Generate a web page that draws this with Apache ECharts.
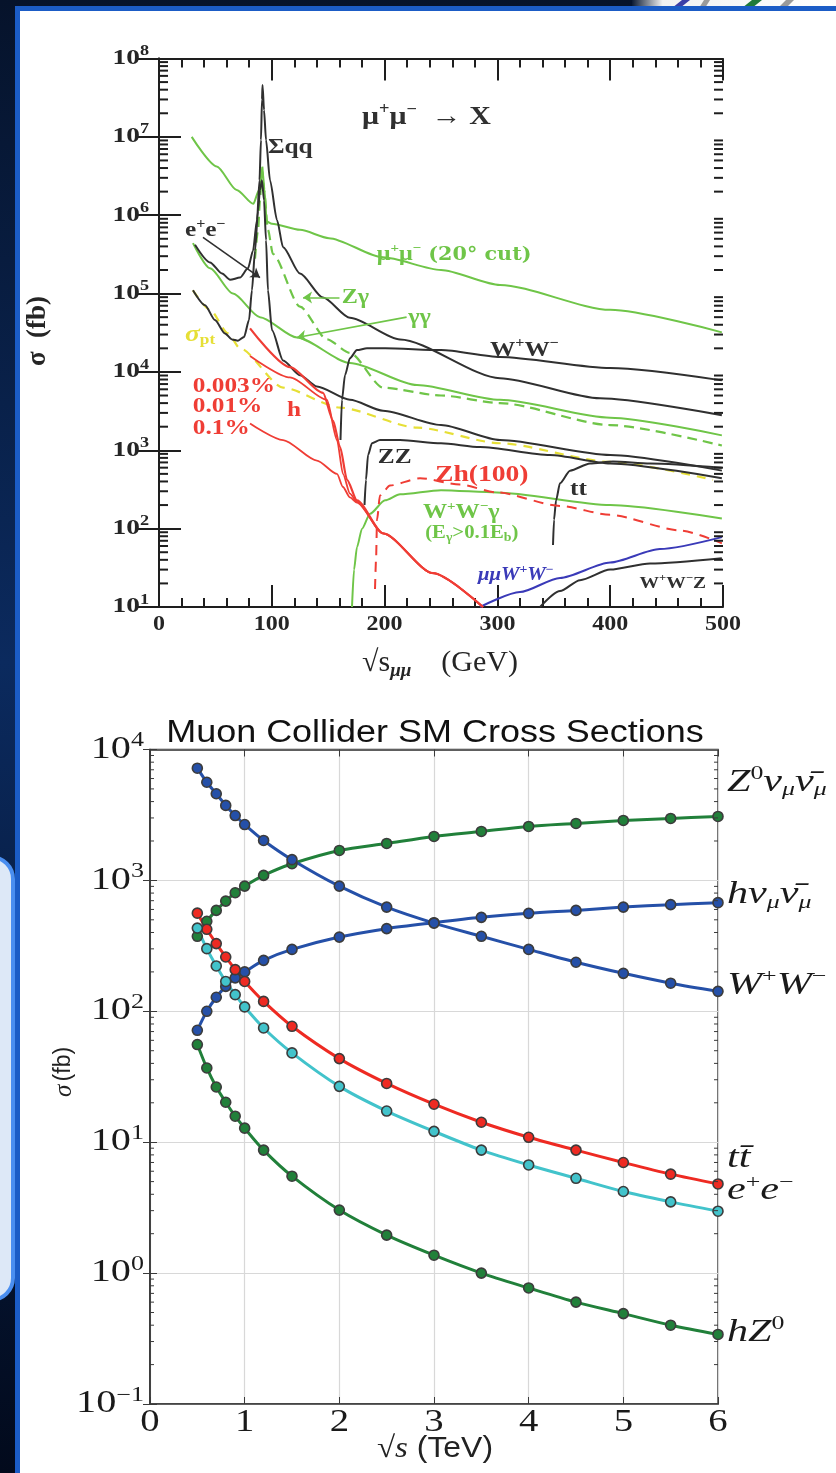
<!DOCTYPE html>
<html>
<head>
<meta charset="utf-8">
<script src="https://cdn.jsdelivr.net/npm/echarts@6/dist/echarts.min.js"></script>
<style>
html,body{margin:0;padding:0;overflow:hidden;background:#0a2250;}
#chart{width:836px;height:1473px;}
</style>
</head>
<body>
<div id="chart"></div>
<script>
// ================= UPPER PLOT: mu+mu- -> X  (x: sqrt(s) GeV, y: sigma fb) =================
const topXTicks = [0, 100, 200, 300, 400, 500];
const topYTickExps = [1, 2, 3, 4, 5, 6, 7, 8];

const mumuCutX = [29, 51.2, 68.9, 83.6, 88.7, 91.9, 93.5, 95.5, 100, 125, 150.7, 198.6, 250, 302.3, 400, 499];
const mumuCutY = [1.0e7, 4.2e6, 2.1e6, 1.4e6, 2.1e6, 3.6e6, 2.1e6, 8.3e5, 7.8e5, 6.5e5, 5.1e5, 2.9e5, 2.0e5, 1.29e5, 6.2e4, 3.2e4];

const sigmaQQX = [31.9, 45.2, 55.9, 63, 71.8, 78.9, 83.3, 86.9, 89.1, 90.4, 91.3, 91.8, 93.1, 94.9, 98.4, 104.6, 110, 125, 145.4, 169.3, 213.7, 302.3, 391, 499];
const sigmaQQY = [4.2e5, 2.5e5, 1.8e5, 1.5e5, 1.6e5, 2.1e5, 3.5e5, 8.7e5, 2.8e6, 9.1e6, 3.0e7, 4.6e7, 2.2e7, 9.1e6, 2.8e6, 8.7e5, 3.9e5, 1.8e5, 8.9e4, 4.9e4, 2.6e4, 8.3e3, 4.6e3, 2.8e3];

const eePairX = [30.1, 40.8, 49.6, 58.5, 64.7, 70, 75.4, 79.8, 82.4, 85.1, 87.8, 89.5, 91.3, 93.1, 94.9, 96.6, 100.2, 110, 125, 140, 169.3, 198.6, 250, 302.3, 400, 499];
const eePairY = [1.1e5, 7.1e4, 4.6e4, 3.1e4, 2.6e4, 2.5e4, 2.8e4, 4.6e4, 1.1e5, 3.5e5, 1.15e6, 2.1e6, 2.8e6, 1.55e6, 4.8e5, 1.1e5, 3.4e4, 1.4e4, 9.1e3, 6.5e3, 4.4e3, 3.2e3, 2.1e3, 1.35e3, 870, 550];

const sigmaPtX = [30.1, 45.2, 61.2, 71.8, 110, 160.5, 228.7, 302.3, 400, 491.1];
const sigmaPtY = [1.1e5, 6.2e4, 3.1e4, 2.0e4, 6.3e3, 3.5e3, 1.95e3, 1.23e3, 710, 420];

const zGammaX = [85.1, 87.8, 89.5, 91.3, 93.1, 96.6, 101, 125, 148.9, 169.3, 198.6, 250, 302.3, 400, 499];
const zGammaY = [2.8e5, 6.5e5, 1.55e6, 4.4e6, 2.1e6, 6.5e5, 3.2e5, 6.8e4, 2.6e4, 1.75e4, 6.3e3, 5.0e3, 4.0e3, 2.1e3, 1.15e3];

const gammaGammaX = [30.1, 45.2, 65.6, 89.5, 122.3, 169.3, 228.7, 302.3, 400, 499];
const gammaGammaY = [4.4e5, 2.1e5, 1.0e5, 5.0e4, 2.75e4, 1.3e4, 6.8e3, 4.4e3, 2.6e3, 1.55e3];

const wwX = [160.9, 162.2, 164.9, 169.3, 175.5, 184.4, 200.4, 250, 302.3, 400, 499];
const wwY = [1350, 4.4e3, 9.1e3, 1.5e4, 1.9e4, 2.0e4, 2.0e4, 1.9e4, 1.55e4, 1.12e4, 7.8e3];

const zzX = [182.2, 183.5, 185.3, 188.8, 195.9, 213.7, 250, 284.6, 346.6, 400, 499];
const zzY = [200, 420, 870, 1230, 1350, 1350, 1230, 1100, 870, 680, 440];

const ttX = [349.3, 350.2, 352, 355.5, 364.4, 382.1, 402.5, 435.3, 499];
const ttY = [62, 130, 230, 380, 550, 680, 720, 680, 600];

const wwzX = [337.8, 355.5, 373.2, 400, 435.3, 499];
const wwzY = [10, 16, 22, 30, 36, 42];

const mumuWWX = [284.6, 320, 355.5, 400, 444, 499];
const mumuWWY = [10, 15.5, 23.5, 37, 55, 78];

const wwGammaX = [171.1, 172.9, 175.5, 180, 187.1, 200.4, 213.7, 250, 299.6, 400, 499];
const wwGammaY = [10, 30, 58, 100, 155, 230, 275, 310, 290, 200, 135];

const zhX = [191.5, 192.4, 193.3, 195.9, 204.8, 231.4, 266.8, 299.6, 355.5, 400, 461.9, 499];
const zhY = [17, 40, 130, 265, 355, 440, 365, 290, 195, 150, 95, 65];

const higgs003X = [80.7, 116.1, 145.4, 154.3, 160.5, 166.7, 175.5, 198.6, 242.9, 287.2];
const higgs003Y = [3.6e4, 1.15e4, 5.4e3, 2.4e3, 1.1e3, 420, 230, 87, 27, 10];
const higgs01X = [80.7, 116.1, 148.9, 157.8, 163.1, 169.3, 175.5, 198.6, 242.9, 287.2];
const higgs01Y = [1.6e4, 8.5e3, 4.4e3, 1.35e3, 500, 280, 220, 87, 27, 10];
const higgs1X = [80.7, 110, 140, 157.8, 163.1, 169.3, 175.5, 198.6, 242.9, 287.2];
const higgs1Y = [2.2e3, 1.35e3, 740, 500, 340, 250, 215, 87, 27, 10];

// ================= LOWER PLOT: Muon Collider SM Cross Sections (x: TeV, y: fb) =================
const botXTicks = [0, 1, 2, 3, 4, 5, 6];
const botYTickExps = [-1, 0, 1, 2, 3, 4];
const tevX = [0.5, 0.6, 0.7, 0.8, 0.9, 1.0, 1.2, 1.5, 2, 2.5, 3, 3.5, 4, 4.5, 5, 5.5, 6];
const wwTevY  = [7200, 5620, 4590, 3740, 3130, 2670, 2020, 1440, 904, 625, 472, 374, 297, 237, 195, 164, 142];
const zvvTevY = [374, 487, 590, 695, 805, 904, 1092, 1340, 1694, 1916, 2166, 2366, 2584, 2724, 2871, 2974, 3080];
const hvvTevY = [71.6, 100, 128, 155, 180, 200, 245, 297, 369, 428, 475, 522, 560, 590, 625, 653, 676];
const ttTevY  = [562, 423, 329, 260, 208, 169, 119, 76.8, 43.5, 28.1, 19.5, 14.2, 10.9, 8.7, 7.0, 5.7, 4.8];
const eeTevY  = [432, 301, 222, 169, 134, 108, 74.6, 48.1, 26.7, 17.3, 12.1, 8.7, 6.7, 5.3, 4.2, 3.5, 2.97];
const hzTevY  = [55.7, 36.9, 26.4, 20.2, 15.8, 12.8, 8.7, 5.5, 3.03, 1.95, 1.37, 1.0, 0.77, 0.60, 0.49, 0.40, 0.34];

// axis ranges / tick helpers
const topXRange = [0, 500];
const topYRange = [10, 1e8];
const botXRange = [0, 6];
const botYRange = [0.1, 1e4];
const minorMultipliers = [2, 3, 4, 5, 6, 7, 8, 9];

// ================= styling =================
const SERIF = 'Liberation Serif';
const WIDESERIF = 'DejaVu Serif';
const SANS = 'Liberation Sans';
const BLACK = '#303030', GREEN = '#6fc548', RED = '#ef3d35', BLUE = '#3a3ab8', YELLOW = '#e6df36';
const C_BLUE = '#2550a8', C_GREEN = '#21803a', C_RED = '#ee2a22', C_CYAN = '#42c3cb';
const INK = '#1a1a1a', TOPINK = '#252525';

function zip(xs, ys) { return xs.map((x, i) => [x, ys[i]]); }
function decadeMinors(lo, hi) {
  const out = [];
  for (let e = lo; e < hi; e++) for (const m of minorMultipliers) out.push(m * Math.pow(10, e));
  return out;
}
function minorTickSeries(xi, yi, xr, values, len, color, width) {
  return {
    type: 'custom', xAxisIndex: xi, yAxisIndex: yi, silent: true, clip: false, z: 6,
    data: values.map(v => [xr[0], v]),
    renderItem(params, api) {
      const v = api.value(1);
      const l = api.coord([xr[0], v]);
      const r = api.coord([xr[1], v]);
      return { type: 'group', children: [
        { type: 'line', shape: { x1: l[0], y1: l[1], x2: l[0] + len, y2: l[1] }, style: { stroke: color, lineWidth: width } },
        { type: 'line', shape: { x1: r[0] - len, y1: r[1], x2: r[0], y2: r[1] }, style: { stroke: color, lineWidth: width } }
      ]};
    }
  };
}
function topLine(xs, ys, color, width, dash) {
  return {
    type: 'line', xAxisIndex: 0, yAxisIndex: 0, data: zip(xs, ys), symbol: 'none',
    smooth: 0.25, smoothMonotone: 'x', silent: true, z: 3,
    lineStyle: { color: color, width: width, type: dash || 'solid' }
  };
}
function rs(family, size, color, extra) {
  return Object.assign({ fontFamily: family, fontSize: size, color: color, fill: color }, extra || {});
}
const B = { fontWeight: 'bold' };
const topRich = {
  k:  rs(SERIF, 22, BLACK, B),
  ks: rs(SERIF, 14, BLACK, { fontWeight: 'bold', padding: [0, 0, 13, 0] }),
  kS: rs(SERIF, 17, BLACK, B),
  kSs: rs(SERIF, 11, BLACK, { fontWeight: 'bold', padding: [0, 0, 10, 0] }),
  x:  rs(SERIF, 26, BLACK, B),
  xs: rs(SERIF, 16, BLACK, { fontWeight: 'bold', padding: [0, 0, 15, 0] }),
  g:  rs(SERIF, 21, GREEN, B),
  gs: rs(SERIF, 13, GREEN, { fontWeight: 'bold', padding: [0, 0, 12, 0] }),
  gm: rs(SERIF, 18, GREEN, B),
  gc: rs(WIDESERIF, 18, GREEN, B),
  gb: rs(SERIF, 12, GREEN, { fontWeight: 'bold', padding: [10, 0, 0, 0] }),
  r:  rs(SERIF, 22, RED, B),
  R:  rs(SERIF, 24, RED, B),
  y:  rs(SERIF, 24, YELLOW, { fontWeight: 'bold', fontStyle: 'italic' }),
  yb: rs(SERIF, 15, YELLOW, { fontWeight: 'bold', padding: [11, 0, 0, 0] }),
  b:  rs(SERIF, 18, BLUE, { fontWeight: 'bold', fontStyle: 'italic' }),
  bs: rs(SERIF, 12, BLUE, { fontWeight: 'bold', padding: [0, 0, 11, 0] })
};
// text annotations of the upper plot (anchored in data coordinates: left edge, vertical middle)
const topNotes = [
  [96.6, 7.3e6, '{k|Σqq}'],
  [23, 6.4e5, '{k|e}{ks|+}{k|e}{ks|−}'],
  [193, 3.1e5, '{g|μ}{gs|+}{g|μ}{gs|−}{gc| (20° cut)}'],
  [162, 8.9e4, '{g|Zγ}'],
  [221, 5.0e4, '{g|γγ}'],
  [293.4, 1.9e4, '{k|W}{ks|+}{k|W}{ks|−}'],
  [23, 3.0e4, '{y|σ}{yb|pt}'],
  [30, 6.6e3, '{r|0.003%}'],
  [30, 3.6e3, '{r|0.01%}'],
  [30, 1.9e3, '{r|0.1%}'],
  [113.5, 3.2e3, '{r|h}'],
  [194, 810, '{k|ZZ}'],
  [244.7, 480, '{R|Zh(100)}'],
  [364.4, 320, '{k|tt}'],
  [234, 162, '{g|W}{gs|+}{g|W}{gs|−}{g|γ}'],
  [236, 87, '{gm|(E}{gb|γ}{gm|>0.1E}{gb|b}{gm|)}'],
  [282.8, 25, '{b|μμW}{bs|+}{b|W}{bs|−}'],
  [426, 20, '{kS|W}{kSs|+}{kS|W}{kSs|−}{kS|Z}'],
  [180, 1.78e7, '{x|μ}{xs|+}{x|μ}{xs|−}{x|  → X}']
];
const topArrows = [
  [[39, 5.2e5], [89.5, 1.6e5], BLACK],
  [[160, 8.9e4], [127.7, 8.9e4], GREEN],
  [[219.5, 5.0e4], [122.3, 2.75e4], GREEN]
];
const topTickRich = {
  b: rs(SERIF, 21, TOPINK, B),
  s: rs(SERIF, 14, TOPINK, { fontWeight: 'bold', padding: [0, 0, 14, 0] })
};

const botRich = {
  m:  rs(SERIF, 31, INK, { fontStyle: 'italic' }),
  sp: rs(SERIF, 19, INK, { padding: [0, 0, 16, 0] }),
  sb: rs(SERIF, 19, INK, { fontStyle: 'italic', padding: [16, 0, 0, 0] })
};
const botTickRich = {
  b: rs(SERIF, 31, INK),
  s: rs(SERIF, 20, INK, { padding: [0, 0, 17, 0] })
};
// right-hand labels of the lower plot: [series values, text, vertical offset from the last point]
const botEndNotes = [
  [zvvTevY, '{m|Z}{sp|0}{m|ν}{sb|μ}{m|ν̄}{sb|μ}', -34],
  [hvvTevY, '{m|hν}{sb|μ}{m|ν̄}{sb|μ}', -8],
  [wwTevY, '{m|W}{sp|+}{m|W}{sp|−}', -6],
  [ttTevY, '{m|tt̄}', -25],
  [eeTevY, '{m|e}{sp|+}{m|e}{sp|−}', -20],
  [hzTevY, '{m|hZ}{sp|0}', -2]
];
function botLine(ys, color) {
  return {
    type: 'line', xAxisIndex: 2, yAxisIndex: 2, data: zip(tevX, ys),
    smooth: 0.3, symbol: 'circle', symbolSize: 10, silent: true, z: 4,
    lineStyle: { color: color, width: 3 },
    itemStyle: { color: color, borderColor: '#3c3c3c', borderWidth: 1.6 }
  };
}
function expText(e) {
  return '{b|10}{s|' + (e < 0 ? '−' + (-e) : e) + '}';
}

const chart = echarts.init(document.getElementById('chart'), null, { renderer: 'canvas', width: 836, height: 1473 });

const baseGraphic = [
  // slide background
  { type: 'rect', z: -100, silent: true, shape: { x: 0, y: 0, width: 836, height: 1473 },
    style: { fill: new echarts.graphic.LinearGradient(0, 0, 0, 1, [
      { offset: 0, color: '#06132b' }, { offset: 0.45, color: '#0b2a5e' }, { offset: 1, color: '#020a1c' }]) } },
  // logo fragment at top right
  { type: 'rect', z: -99, silent: true, shape: { x: 632, y: 0, width: 204, height: 8 },
    style: { fill: new echarts.graphic.LinearGradient(0, 0, 1, 0, [
      { offset: 0, color: '#0b1a33' }, { offset: 0.15, color: '#f2f2f2' }, { offset: 1, color: '#ffffff' }]) } },
  { type: 'polygon', z: -98, silent: true, shape: { points: [[672, 8], [680, 8], [690, 0], [682, 0]] }, style: { fill: '#3b3fa8' } },
  { type: 'polygon', z: -98, silent: true, shape: { points: [[699, 8], [705, 8], [710, 0], [704, 0]] }, style: { fill: '#9a9a9a' } },
  { type: 'polygon', z: -98, silent: true, shape: { points: [[742, 8], [752, 8], [762, 0], [752, 0]] }, style: { fill: '#1f7a3a' } },
  { type: 'polygon', z: -98, silent: true, shape: { points: [[778, 8], [786, 8], [794, 0], [786, 0]] }, style: { fill: '#9a9a9a' } },
  // left rounded box of the slide
  { type: 'rect', z: -97, silent: true, shape: { x: -40, y: 857, width: 53, height: 443, r: 22 },
    style: { fill: '#dde8f7', stroke: '#4a8ef0', lineWidth: 4 } },
  // panel border and white panel
  { type: 'rect', z: -96, silent: true, shape: { x: 15, y: 6, width: 821, height: 1467 }, style: { fill: '#1b5cc6' } },
  { type: 'rect', z: -95, silent: true, shape: { x: 20, y: 11, width: 816, height: 1462 }, style: { fill: '#ffffff' } },
  // upper plot axis titles
  { type: 'text', z: 10, silent: true, x: 38, y: 331, rotation: Math.PI / 2,
    style: { text: 'σ  (fb)', font: 'bold 27px "Liberation Serif"', fill: TOPINK, align: 'center', verticalAlign: 'middle' } },
  { type: 'text', z: 10, silent: true, x: 440, y: 663,
    style: { text: '{a|√s}{b|μμ}{a|    (GeV)}', align: 'center', verticalAlign: 'middle',
      rich: { a: rs(SERIF, 30, TOPINK), b: rs(SERIF, 19, TOPINK, { fontStyle: 'italic', fontWeight: 'bold', padding: [16, 0, 0, 0] }) } } },
  // lower plot title and axis titles
  { type: 'text', z: 10, silent: true, x: 435, y: 733, scaleX: 1.16,
    style: { text: 'Muon Collider SM Cross Sections', font: '31px "Liberation Sans"', fill: '#111', align: 'center', verticalAlign: 'middle' } },
  { type: 'text', z: 10, silent: true, x: 64, y: 1072, rotation: Math.PI / 2,
    style: { text: '{i|σ} {s|(fb)}', align: 'center', verticalAlign: 'middle',
      rich: { i: rs(SERIF, 25, '#222', { fontStyle: 'italic' }), s: rs(SANS, 23, '#222') } } },
  { type: 'text', z: 10, silent: true, x: 435, y: 1449, scaleX: 1.1,
    style: { text: '{r|√}{i|s}{s| (TeV)}', align: 'center', verticalAlign: 'middle',
      rich: { r: rs(SERIF, 30, '#222'), i: rs(SERIF, 30, '#222', { fontStyle: 'italic' }), s: rs(SANS, 29, '#222') } } }
];

const topAxisLine = { lineStyle: { color: '#1e1e1e', width: 2 } };
const topTick = { inside: true, length: 22, lineStyle: { color: '#1e1e1e', width: 2 } };
const topMinor = { show: true, splitNumber: 5, length: 9, lineStyle: { color: '#1e1e1e', width: 2 } };
const botAxisLine = { lineStyle: { color: '#3a3a3a', width: 1.5 } };
const botTick = { inside: true, length: 7, lineStyle: { color: '#3a3a3a' } };
const botSplit = { show: true, lineStyle: { color: '#d8d8d8', width: 1.2 } };

const option = {
  animation: false,
  backgroundColor: '#0a2250',
  grid: [
    { left: 159, top: 58.5, width: 564, height: 548.5 },
    { left: 150, top: 749.5, width: 568, height: 654.5, show: true, borderColor: '#3a3a3a', borderWidth: 1.5 }
  ],
  xAxis: [
    { gridIndex: 0, type: 'value', min: topXRange[0], max: topXRange[1], interval: 100, position: 'bottom',
      axisLine: topAxisLine, axisTick: topTick, minorTick: topMinor, splitLine: { show: false }, axisLabel: { show: false } },
    { gridIndex: 0, type: 'value', min: topXRange[0], max: topXRange[1], interval: 100, position: 'top',
      axisLine: topAxisLine, axisTick: topTick, minorTick: topMinor, splitLine: { show: false }, axisLabel: { show: false } },
    { gridIndex: 1, type: 'value', min: botXRange[0], max: botXRange[1], interval: 1, position: 'bottom',
      axisLine: botAxisLine, axisTick: botTick, splitLine: botSplit, axisLabel: { show: false } },
    { gridIndex: 1, type: 'value', min: botXRange[0], max: botXRange[1], interval: 1, position: 'top',
      axisLine: botAxisLine, axisTick: botTick, splitLine: { show: false }, axisLabel: { show: false } }
  ],
  yAxis: [
    { gridIndex: 0, type: 'log', logBase: 10, min: topYRange[0], max: topYRange[1], splitNumber: 7, position: 'left',
      axisLine: topAxisLine, axisTick: topTick, splitLine: { show: false }, axisLabel: { show: false } },
    { gridIndex: 0, type: 'log', logBase: 10, min: topYRange[0], max: topYRange[1], splitNumber: 7, position: 'right',
      axisLine: topAxisLine, axisTick: topTick, splitLine: { show: false }, axisLabel: { show: false } },
    { gridIndex: 1, type: 'log', logBase: 10, min: botYRange[0], max: botYRange[1], splitNumber: 5, position: 'left',
      axisLine: botAxisLine, axisTick: botTick, splitLine: botSplit, axisLabel: { show: false } },
    { gridIndex: 1, type: 'log', logBase: 10, min: botYRange[0], max: botYRange[1], splitNumber: 5, position: 'right',
      axisLine: botAxisLine, axisTick: botTick, splitLine: { show: false }, axisLabel: { show: false } }
  ],
  graphic: baseGraphic,
  series: [
    minorTickSeries(0, 0, topXRange, decadeMinors(1, 8), 9, '#1e1e1e', 2),
    minorTickSeries(2, 2, botXRange, decadeMinors(-1, 4), 4, '#3a3a3a', 1),
    topLine(mumuCutX, mumuCutY, GREEN, 2),
    topLine(gammaGammaX, gammaGammaY, GREEN, 2),
    topLine(zGammaX, zGammaY, GREEN, 2.2, [10, 6]),
    topLine(wwGammaX, wwGammaY, GREEN, 2),
    topLine(sigmaPtX, sigmaPtY, YELLOW, 2.2, [9, 7]),
    topLine(sigmaQQX, sigmaQQY, BLACK, 2),
    topLine(eePairX, eePairY, BLACK, 2),
    topLine(wwX, wwY, BLACK, 2),
    topLine(zzX, zzY, BLACK, 2),
    topLine(ttX, ttY, BLACK, 2),
    topLine(wwzX, wwzY, BLACK, 2),
    topLine(mumuWWX, mumuWWY, BLUE, 2),
    topLine(zhX, zhY, RED, 2, [10, 7]),
    topLine(higgs1X, higgs1Y, RED, 1.8),
    topLine(higgs01X, higgs01Y, RED, 1.8),
    topLine(higgs003X, higgs003Y, RED, 2.2),
    {
      type: 'scatter', xAxisIndex: 0, yAxisIndex: 0, silent: true, z: 8, symbolSize: 1,
      itemStyle: { color: 'rgba(0,0,0,0)' }, data: [],
      markLine: {
        silent: true, symbol: ['none', 'arrow'], symbolSize: 9, label: { show: false },
        data: topArrows.map(a => [{ coord: a[0], lineStyle: { color: a[2], width: 1.6, type: 'solid' } }, { coord: a[1] }])
      }
    },
    botLine(zvvTevY, C_GREEN),
    botLine(hvvTevY, C_BLUE),
    botLine(wwTevY, C_BLUE),
    botLine(ttTevY, C_RED),
    botLine(eeTevY, C_CYAN),
    botLine(hzTevY, C_GREEN)
  ]
};
chart.setOption(option);

// ---- texts positioned through the chart's own scales (stretched horizontally like the source images)
const px = (grid, pt) => chart.convertToPixel({ gridIndex: grid }, pt);
const extra = [];
// upper plot tick labels
topYTickExps.forEach(e => {
  const p = px(0, [topXRange[0], Math.pow(10, e)]);
  extra.push({ type: 'text', z: 10, silent: true, x: p[0] - 10, y: p[1], scaleX: 1.3,
    style: { text: expText(e), rich: topTickRich, align: 'right', verticalAlign: 'middle' } });
});
topXTicks.forEach(v => {
  const p = px(0, [v, topYRange[0]]);
  extra.push({ type: 'text', z: 10, silent: true, x: p[0], y: p[1] + 8, scaleX: 1.2,
    style: { text: String(v), font: 'bold 20px "Liberation Serif"', fill: TOPINK, align: 'center', verticalAlign: 'top' } });
});
// upper plot annotations
topNotes.forEach(n => {
  const p = px(0, [n[0], n[1]]);
  extra.push({ type: 'text', z: 10, silent: true, x: p[0], y: p[1], scaleX: 1.15,
    style: { text: n[2], rich: topRich, align: 'left', verticalAlign: 'middle' } });
});
// lower plot tick labels
botYTickExps.forEach(e => {
  const p = px(1, [botXRange[0], Math.pow(10, e)]);
  extra.push({ type: 'text', z: 10, silent: true, x: p[0] - 6, y: p[1], scaleX: 1.3,
    style: { text: expText(e), rich: botTickRich, align: 'right', verticalAlign: 'middle' } });
});
botXTicks.forEach(v => {
  const p = px(1, [v, botYRange[0]]);
  extra.push({ type: 'text', z: 10, silent: true, x: p[0], y: p[1] + 3, scaleX: 1.25,
    style: { text: String(v), font: '31px "Liberation Serif"', fill: INK, align: 'center', verticalAlign: 'top' } });
});
// right-hand curve labels of the lower plot, anchored at each curve's last point
const lastX = tevX[tevX.length - 1];
botEndNotes.forEach(n => {
  const p = px(1, [lastX, n[0][n[0].length - 1]]);
  extra.push({ type: 'text', z: 10, silent: true, x: p[0] + 9, y: p[1] + n[2], scaleX: 1.36,
    style: { text: n[1], rich: botRich, align: 'left', verticalAlign: 'middle' } });
});
chart.setOption({ graphic: baseGraphic.concat(extra) });
</script>
</body>
</html>
